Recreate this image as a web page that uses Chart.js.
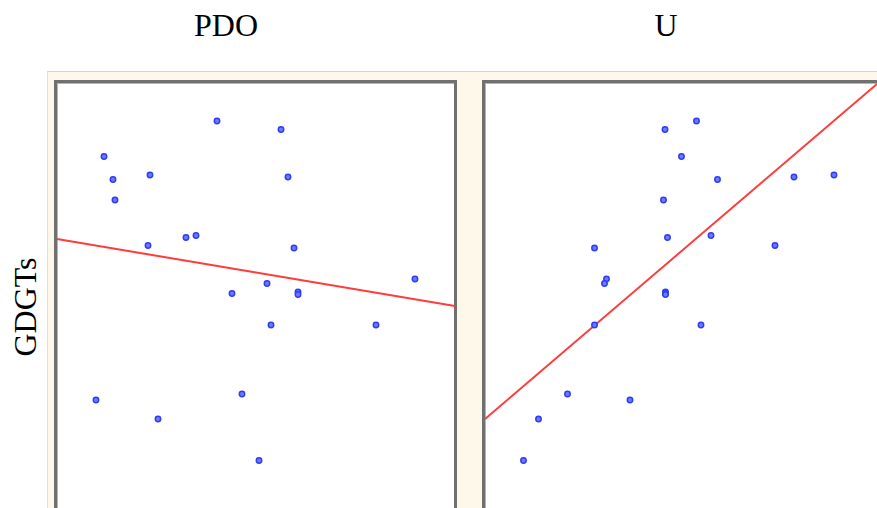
<!DOCTYPE html>
<html>
<head>
<meta charset="utf-8">
<script src="https://cdn.jsdelivr.net/npm/chart.js@4/dist/chart.umd.min.js"></script>
<style>
  html, body { margin: 0; padding: 0; background: #ffffff; }
  body { width: 877px; height: 508px; position: relative; overflow: hidden; font-family: "Liberation Serif", "Times New Roman", serif; }
  .frame { position: absolute; left: 47px; top: 71px; width: 840px; height: 450px;
           background: #fdf8ea; border-top: 1px solid #d9d2bd; border-left: 1px solid #e6dfca; box-sizing: border-box; }
  .panel { position: absolute; background: #ffffff; box-sizing: border-box;
           border-left: 3px solid #707070; border-top: 3px solid #707070; border-right: 3px solid #707070;
           box-shadow: inset 1px 1px 0 #b5b5b5; }
  canvas { position: absolute; }
  .title { position: absolute; font-size: 32px; color: #000; transform: translateX(-50%); white-space: nowrap; }
  .ylab { position: absolute; font-size: 32px; color: #000; white-space: nowrap;
          transform: translate(-50%, -50%) rotate(-90deg); }
</style>
</head>
<body>
<div class="title" style="left:226px; top:7px;">PDO</div>
<div class="title" style="left:666px; top:7px;">U</div>
<div class="ylab" style="left:25px; top:307px;">GDGTs</div>

<div class="frame"></div>
<div class="panel" style="left:54px; top:80px; width:403px; height:440px;"></div>
<div class="panel" style="left:482px; top:80px; width:420px; height:440px;"></div>

<canvas id="cPDO" width="398" height="425" style="left:57px; top:83px;"></canvas>
<canvas id="cU" width="392" height="425" style="left:485px; top:83px;"></canvas>

<script>
// GDGTs response (shared vertical variable for both panels)
const gdgts = [7.78, 7.61, 7.07, 6.70, 6.66, 6.61, 6.20, 5.49, 5.45, 5.29, 5.24,
               4.62, 4.53, 4.36, 4.33, 4.31, 3.70, 3.70, 2.32, 2.20, 1.82, 0.99];
// PDO index values
const pdo = [-0.39, 0.25, -1.52, -1.06, 0.32, -1.43, -1.41, -0.60, -0.70, -1.08, 0.38,
             1.59, 0.11, 0.42, -0.24, 0.42, 0.15, 1.20, -0.14, -1.60, -0.98, 0.03];
// U values
const u = [4.23, 3.60, 3.93, 6.98, 6.18, 4.65, 3.57, 4.52, 3.65, 5.80, 2.19,
           2.43, 2.39, 3.61, 3.61, 3.61, 2.19, 4.32, 1.65, 2.90, 1.07, 0.77];

// Least-squares fit lines (end points)
const pdoFitX = [-1.99, 1.99];
const pdoFitY = [5.42, 4.08];
const uFitX = [0, 7.84];
const uFitY = [1.82, 8.52];

// Axis ranges of the two panels
const pdoRange = [-1.99, 1.99];
const uRange = [0, 7.84];
const gdgtsRange = [0.04, 8.54];

function pairs(xs, ys) { return xs.map((x, i) => ({ x: x, y: ys[i] })); }

function makePanel(id, xs, fitX, fitY, xRange) {
  new Chart(document.getElementById(id), {
    type: 'scatter',
    data: {
      datasets: [
        {
          data: pairs(xs, gdgts),
          pointRadius: 2.7,
          pointBackgroundColor: '#6f7aff',
          pointBorderColor: '#2d3df7',
          pointBorderWidth: 1.5,
          showLine: false,
          order: 1
        },
        {
          data: pairs(fitX, fitY),
          showLine: true,
          borderColor: '#ff3b3b',
          borderWidth: 2,
          pointRadius: 0,
          fill: false,
          order: 2
        }
      ]
    },
    options: {
      responsive: false,
      animation: false,
      layout: { padding: 0, autoPadding: false },
      plugins: { legend: { display: false }, tooltip: { enabled: false } },
      scales: {
        x: { type: 'linear', min: xRange[0], max: xRange[1], display: false },
        y: { type: 'linear', min: gdgtsRange[0], max: gdgtsRange[1], display: false }
      }
    }
  });
}

makePanel('cPDO', pdo, pdoFitX, pdoFitY, pdoRange);
makePanel('cU', u, uFitX, uFitY, uRange);
</script>
</body>
</html>
